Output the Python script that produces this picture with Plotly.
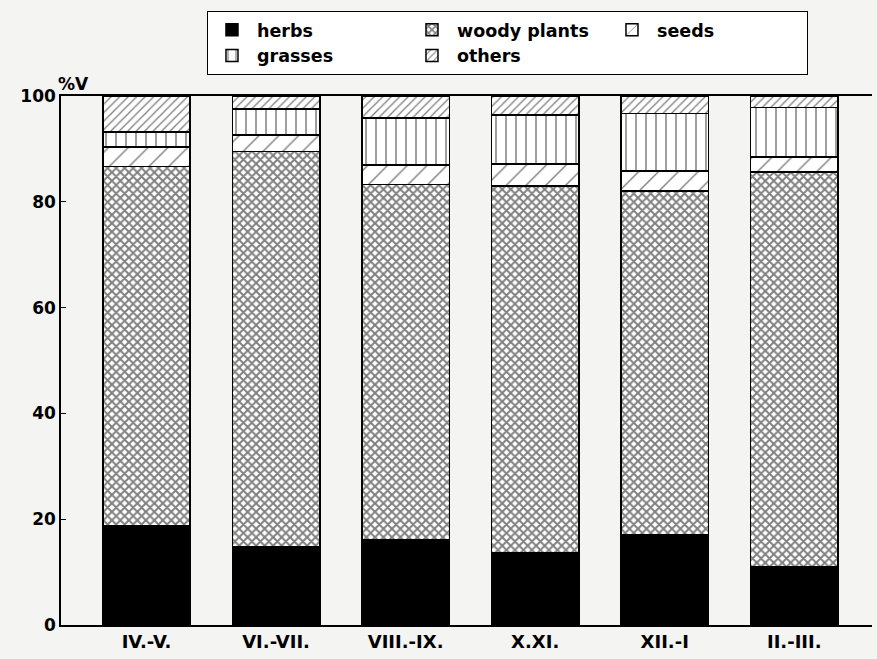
import plotly.graph_objects as go

categories = ["IV.-V.", "VI.-VII.", "VIII.-IX.", "X.XI.", "XII.-I", "II.-III."]
herbs = [18.7, 14.8, 16.2, 13.7, 17.0, 11.0]
woody_plants = [68.0, 74.7, 67.1, 69.3, 65.0, 74.6]
seeds = [3.7, 3.1, 3.7, 4.1, 3.8, 2.9]
grasses = [2.8, 4.9, 8.8, 9.3, 10.9, 9.3]
others = [6.8, 2.5, 4.2, 3.6, 3.3, 2.2]

FONT = "DejaVu Sans, Liberation Sans, Arial, sans-serif"
BG = "#f4f4f2"

series = [
    ("herbs", herbs, "g1", dict(color="black")),
    ("woody plants", woody_plants, "g2", dict(color="white", pattern=dict(shape="x", size=6, solidity=0.55, fgcolor="black", bgcolor="white", fillmode="overlay"))),
    ("seeds", seeds, "g3", dict(color="white", pattern=dict(shape="/", size=14, solidity=0.1, fgcolor="black", bgcolor="white", fillmode="overlay"))),
    ("grasses", grasses, "g1", dict(color="white", pattern=dict(shape="|", size=10, solidity=0.15, fgcolor="black", bgcolor="white", fillmode="overlay"))),
    ("others", others, "g2", dict(color="white", pattern=dict(shape="/", size=6, solidity=0.22, fgcolor="black", bgcolor="white", fillmode="overlay"))),
]

fig = go.Figure()
for name, vals, grp, mk in series:
    mk = dict(mk)
    mk["line"] = dict(color="black", width=1.5)
    fig.add_trace(go.Bar(x=categories, y=vals, name=name, marker=mk, width=0.675,
                         legendgroup=grp))

fig.update_layout(
    barmode="stack",
    width=877, height=659,
    margin=dict(l=61, r=5, t=96, b=34),
    paper_bgcolor=BG, plot_bgcolor=BG,
    font=dict(family=FONT, size=16, color="black", weight="bold"),
    showlegend=True,
    legend=dict(
        orientation="h", x=0.18, xanchor="left", y=1.161, yanchor="top",
        bordercolor="black", borderwidth=1, bgcolor="white",
        entrywidth=145, itemwidth=40, traceorder="grouped", tracegroupgap=10,
        font=dict(family=FONT, size=17.5, color="black", weight="bold"),
    ),
    xaxis=dict(
        range=[-0.66, 5.6], showline=True, linecolor="black", linewidth=1.5,
        mirror=True, ticks="", showgrid=False,
        tickfont=dict(family=FONT, size=18, weight="bold"),
    ),
    yaxis=dict(
        range=[0, 100], tickvals=[0, 20, 40, 60, 80, 100],
        showline=True, linecolor="black", linewidth=1.5,
        ticks="inside", ticklen=5, tickcolor="black", showgrid=False, zeroline=False,
        tickfont=dict(family=FONT, size=17, weight="bold"),
    ),
    bargap=0.3,
)

fig.add_annotation(text="%V", xref="paper", yref="paper", x=-0.006, y=1.0,
                   xanchor="left", yanchor="bottom", yshift=0, showarrow=False,
                   font=dict(family=FONT, size=17, weight="bold", color="black"))

fig.write_html("out.html", config={"displayModeBar": False},
               post_script="document.body.style.margin='0';document.body.style.background='%s';" % BG)
